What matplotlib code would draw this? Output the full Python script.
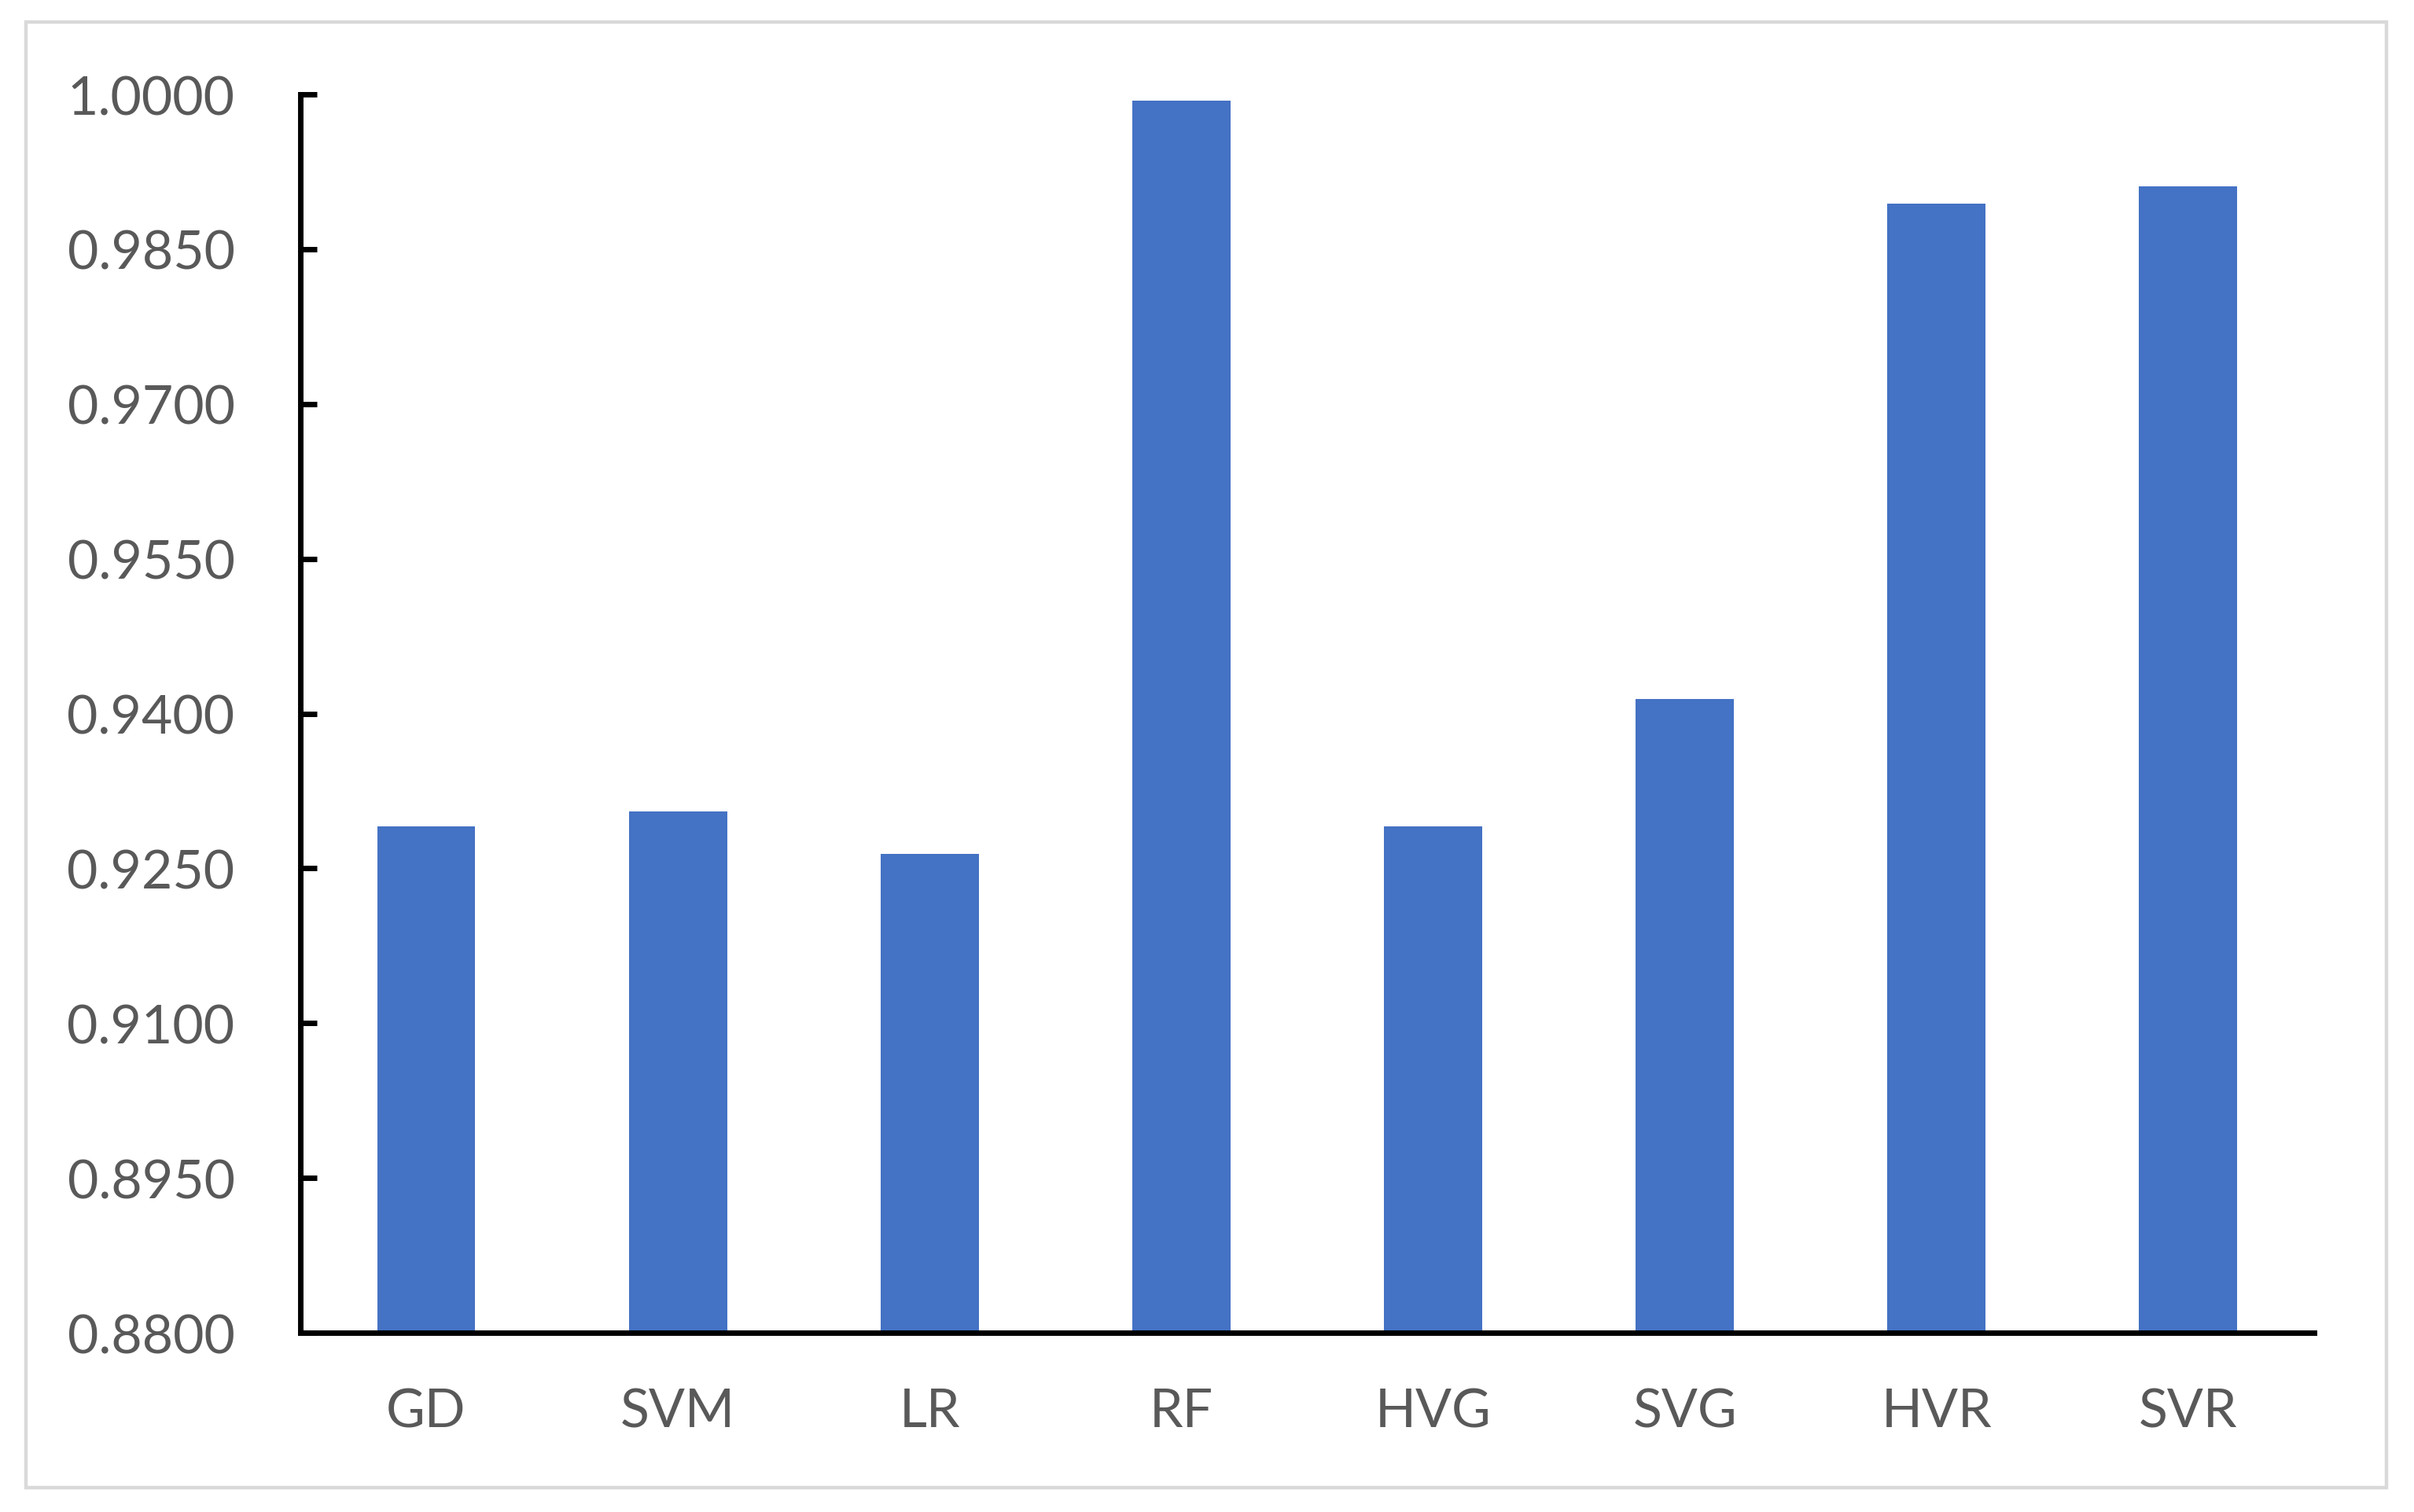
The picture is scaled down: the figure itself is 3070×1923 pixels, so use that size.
import matplotlib.pyplot as plt
from matplotlib.patches import Rectangle
import numpy as np

models = ["GD", "SVM", "LR", "RF", "HVG", "SVG", "HVR", "SVR"]
scores = [0.9291, 0.9305, 0.9264, 0.9994, 0.9291, 0.9414, 0.9894, 0.9911]
yticks = [0.8800, 0.8950, 0.9100, 0.9250, 0.9400, 0.9550, 0.9700, 0.9850, 1.0000]

plt.rcParams['font.family'] = ['Lato', 'DejaVu Sans']

fig = plt.figure(figsize=(30.70, 19.24), dpi=100)
ax = fig.add_axes([0.1244, 0.1185, 0.8342, 0.8186])

x = np.arange(len(models))
ax.bar(x, scores, width=0.39, color="#4472C4", zorder=2)

ax.set_xlim(-0.5, len(models) - 0.5)
ax.set_ylim(0.88, 1.0)
ax.set_yticks(yticks)
ax.set_yticklabels(["%.4f" % v for v in yticks])
ax.set_xticks(x)
ax.set_xticklabels(models)

ax.spines['top'].set_visible(False)
ax.spines['right'].set_visible(False)
ax.spines['left'].set_linewidth(5)
ax.spines['bottom'].set_linewidth(5)

ax.tick_params(axis='y', direction='in', length=15, width=5, pad=60,
               labelsize=49, labelcolor="#595959")
ax.tick_params(axis='x', length=0, pad=50, labelsize=49, labelcolor="#595959")

# light grey frame around the whole chart
fig.patches.append(Rectangle((33 / 3070, 1 - 1893 / 1924), (3035 - 33) / 3070,
                             (1893 - 29) / 1924, transform=fig.transFigure,
                             fill=False, edgecolor="#D9D9D9", linewidth=3.2))

fig.savefig("out.png", dpi=100)
